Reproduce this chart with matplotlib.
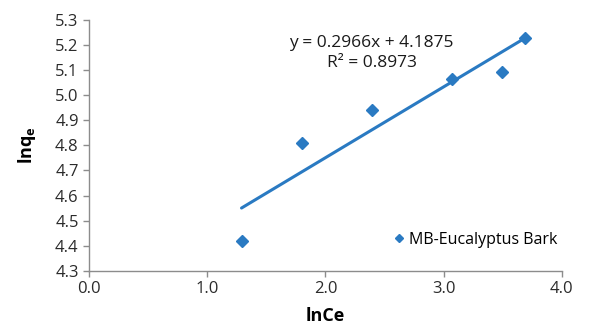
import matplotlib.pyplot as plt
import numpy as np

plt.rcParams['font.family'] = ['Open Sans', 'DejaVu Sans']
plt.rcParams['mathtext.fontset'] = 'custom'
plt.rcParams['mathtext.rm'] = 'Open Sans'
plt.rcParams['mathtext.bf'] = 'Open Sans:bold'

# ---------------- Data ----------------
ln_ce = [1.29, 1.80, 2.39, 3.07, 3.49, 3.69]
ln_qe = [4.42, 4.81, 4.94, 5.065, 5.093, 5.228]
series_name = 'MB-Eucalyptus Bark'
equation_text = 'y = 0.2966x + 4.1875'
r2_text = 'R² = 0.8973'

xticks = [0.0, 1.0, 2.0, 3.0, 4.0]
yticks = [4.3, 4.4, 4.5, 4.6, 4.7, 4.8, 4.9, 5.0, 5.1, 5.2, 5.3]

blue = '#2A7AC2'
grey = '#8C8C8C'

# ---------------- Plotting ----------------
fig = plt.figure(figsize=(6.10, 3.33), dpi=100)
ax = fig.add_axes([0.146, 0.186, 0.775, 0.755])

ax.plot(ln_ce, ln_qe, linestyle='none', marker='D', markersize=6.5,
        color=blue, label=series_name)

# linear trendline through the points
slope, intercept = np.polyfit(ln_ce, ln_qe, 1)
xs = np.array([min(ln_ce), max(ln_ce)])
ax.plot(xs, slope * xs + intercept, color=blue, linewidth=2.2,
        solid_capstyle='round')

ax.text(2.39, 5.208, equation_text, ha='center', va='center', fontsize=12.5, color='#1a1a1a')
ax.text(2.39, 5.129, r2_text, ha='center', va='center', fontsize=12.5, color='#1a1a1a')

ax.set_xlim(0, 4)
ax.set_ylim(4.3, 5.3)
ax.set_xticks(xticks)
ax.set_yticks(yticks)
ax.set_xticklabels([f'{v:.1f}' for v in xticks])
ax.set_yticklabels([f'{v:.1f}' for v in yticks])
ax.tick_params(axis='both', direction='out', length=4, width=1, color=grey,
               labelsize=12, labelcolor='#2b2b2b')

for side in ['top', 'right']:
    ax.spines[side].set_visible(False)
for side in ['left', 'bottom']:
    ax.spines[side].set_color(grey)
    ax.spines[side].set_linewidth(1)

ax.set_xlabel('lnCe', fontsize=13, fontweight='bold', labelpad=7)
ax.set_ylabel(r'lnq$_\mathbf{e}$', fontsize=13, fontweight='bold', labelpad=12)

ax.legend(loc='center left', bbox_to_anchor=(0.605, 0.125), frameon=False,
          fontsize=11.5, handletextpad=0.05, handlelength=1.2, markerscale=0.7)

plt.savefig('out.png', dpi=100)
